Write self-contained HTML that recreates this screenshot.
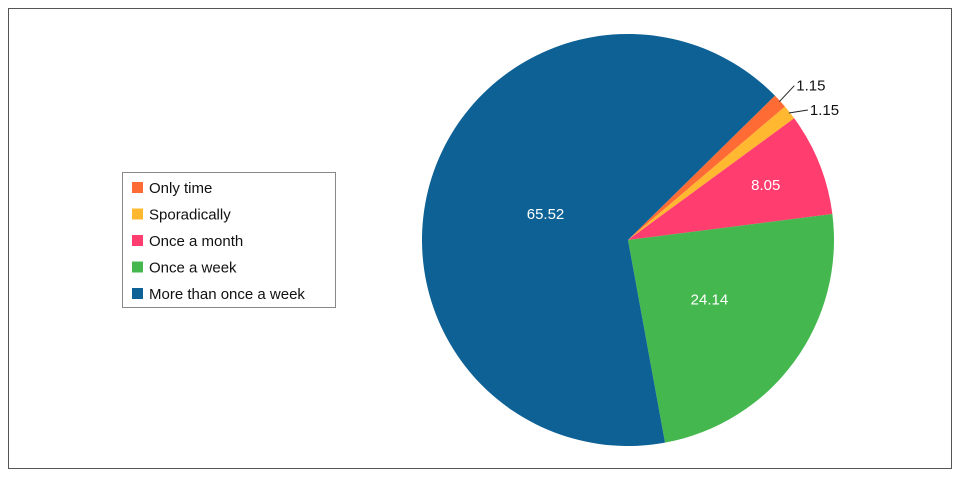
<!DOCTYPE html>
<html><head><meta charset="utf-8"><style>
body{margin:0;background:#fff;font-family:"Liberation Sans",sans-serif}
</style></head><body>
<svg id="chart" width="962" height="478" xmlns="http://www.w3.org/2000/svg">
<rect x="8.5" y="8.5" width="943" height="460" fill="#fff" stroke="#555" stroke-width="1"/>
<g id="slices"></g>
<g id="legend">
<rect x="122.5" y="172.5" width="213" height="135" fill="#fff" stroke="#888"/>
</g>
</svg>
<script>
const categories=["Only time","Sporadically","Once a month","Once a week","More than once a week"];
const values=[1.15,1.15,8.05,24.14,65.52];
const colors=["#ff6b35","#ffb830","#ff3d6e","#44b84e","#0d6194"];
const labelRadius=[1,1,0.72,0.49,0.42];
const cx=628,cy=240,r=206,startDeg=45.5;
const ns="http://www.w3.org/2000/svg";
const g=document.getElementById('slices');
const lg=document.getElementById('legend');
function pt(deg,rad){const a=(deg-90)*Math.PI/180;return[cx+rad*Math.cos(a),cy+rad*Math.sin(a)];}
const total=values.reduce((a,b)=>a+b,0);
let cur=startDeg;
values.forEach((v,i)=>{
  const sweep=v/total*360;
  const [x1,y1]=pt(cur,r),[x2,y2]=pt(cur+sweep,r);
  const p=document.createElementNS(ns,'path');
  p.setAttribute('d',`M${cx},${cy}L${x1},${y1}A${r},${r} 0 ${sweep>180?1:0} 1 ${x2},${y2}Z`);
  p.setAttribute('fill',colors[i]);
  
  
  g.appendChild(p);
  const mid=cur+sweep/2;
  const t=document.createElementNS(ns,'text');
  t.textContent=v.toFixed(2);
  t.setAttribute('font-size','15');
  if(v<5){
    const [lx1,ly1]=pt(mid,r*0.995);
    const off=i===0?[15,-16]:[19,-3];
    const l=document.createElementNS(ns,'line');
    l.setAttribute('x1',lx1);l.setAttribute('y1',ly1);
    l.setAttribute('x2',lx1+off[0]);l.setAttribute('y2',ly1+off[1]);
    l.setAttribute('stroke','#222');
    
    
    g.appendChild(l);
    t.setAttribute('x',lx1+off[0]+2);t.setAttribute('y',ly1+off[1]+5);
    t.setAttribute('fill','#111');
  } else {
    const [tx,ty]=pt(mid,r*labelRadius[i]);
    t.setAttribute('x',tx);t.setAttribute('y',ty+5);
    t.setAttribute('text-anchor','middle');t.setAttribute('fill','#fff');
  }
  
  
  g.appendChild(t);
  cur+=sweep;
});
categories.forEach((c,i)=>{
  const y=188+i*26.5;
  const s=document.createElementNS(ns,'rect');
  s.setAttribute('x',132);s.setAttribute('y',y-6);s.setAttribute('width',11);s.setAttribute('height',11);
  s.setAttribute('fill',colors[i]);
  
  
  lg.appendChild(s);
  const t=document.createElementNS(ns,'text');
  t.setAttribute('x',149);t.setAttribute('y',y+5);t.setAttribute('font-size','15');t.setAttribute('fill','#111');
  t.textContent=c;
  
  
  lg.appendChild(t);
});
</script>
</body></html>
